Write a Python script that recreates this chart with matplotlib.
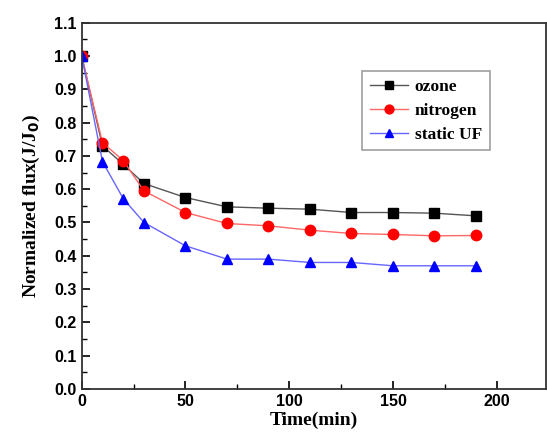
import matplotlib
matplotlib.use("Agg")
import matplotlib.pyplot as plt
from matplotlib.ticker import MultipleLocator, FormatStrFormatter

time = [0, 10, 20, 30, 50, 70, 90, 110, 130, 150, 170, 190]
ozone = [1.0, 0.73, 0.675, 0.617, 0.575, 0.547, 0.543, 0.540, 0.530, 0.530, 0.528, 0.520]
nitrogen = [1.0, 0.740, 0.686, 0.595, 0.530, 0.497, 0.490, 0.477, 0.467, 0.464, 0.460, 0.461]
static_uf = [1.0, 0.683, 0.572, 0.500, 0.430, 0.390, 0.390, 0.380, 0.380, 0.370, 0.370, 0.370]

fig = plt.figure(figsize=(5.47, 4.41), dpi=100)
ax = fig.add_axes([81.7/547, 1-389/441, (545.5-81.7)/547, (389-22.7)/441])

ax.plot(time, ozone, color='#555555', lw=1.0, marker='s', ms=6.5, mfc='black', mec='black', label='ozone')
ax.plot(time, nitrogen, color='#ff6666', lw=1.0, marker='o', ms=7.5, mfc='red', mec='red', label='nitrogen')
ax.plot(time, static_uf, color='#6666ff', lw=1.0, marker='^', ms=7.5, mfc='blue', mec='blue', label='static UF')

ax.set_xlim(0, 223.5)
ax.set_ylim(0, 1.1)
ax.xaxis.set_major_locator(MultipleLocator(50))
ax.xaxis.set_minor_locator(MultipleLocator(25))
ax.yaxis.set_major_locator(MultipleLocator(0.1))
ax.yaxis.set_minor_locator(MultipleLocator(0.05))
ax.tick_params(which='both', direction='in', top=False, right=False)
ax.tick_params(which='major', length=6, width=1.2)
ax.tick_params(which='minor', length=3.5, width=1.0)
ax.xaxis.set_major_formatter(FormatStrFormatter('%d'))
ax.yaxis.set_major_formatter(FormatStrFormatter('%.1f'))
for lab in ax.get_xticklabels() + ax.get_yticklabels():
    lab.set_fontfamily('Liberation Sans')
    lab.set_fontweight('bold')
    lab.set_fontsize(11.5)

for sp in ax.spines.values():
    sp.set_linewidth(1.3)
    sp.set_color('#333333')

ax.set_xlabel('Time(min)', fontfamily='Liberation Serif', fontweight='bold', fontsize=14, labelpad=2)
ax.set_ylabel('Normalized flux(J/J$_\\mathbf{0}$)', fontfamily='Liberation Serif', fontweight='bold', fontsize=14, labelpad=9)

leg = ax.legend(loc='upper left', bbox_to_anchor=((361.7-81.7)/(545.5-81.7), (389-70.7)/(389-22.7)),
                borderaxespad=0,
                prop={'family': 'Liberation Serif', 'weight': 'bold', 'size': 12.5},
                frameon=True, fancybox=False, edgecolor='#888888', handlelength=2.2,
                borderpad=0.45, labelspacing=0.45, handletextpad=0.4, markerscale=0.85)
leg.get_frame().set_linewidth(1.2)

fig.savefig('out.png', dpi=100)
